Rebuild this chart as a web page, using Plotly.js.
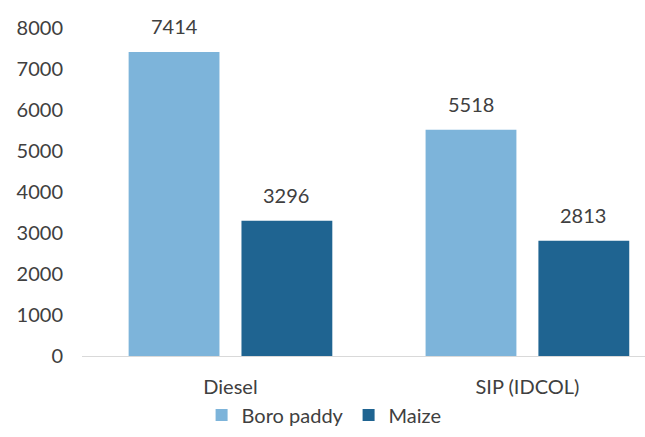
<!DOCTYPE html>
<html><head><meta charset="utf-8">
<script src="https://cdn.plot.ly/plotly-3.0.1.min.js"></script>
<style>html,body{margin:0;padding:0;background:#fff}#c{width:645px;height:437px}</style>
</head><body><div id="c"></div>
<script>
const categories = ["Diesel", "SIP (IDCOL)"];
const boroPaddy = [7414, 5518];
const maize = [3296, 2813];
const seriesNames = ["Boro paddy", "Maize"];
const yTicks = [0, 1000, 2000, 3000, 4000, 5000, 6000, 7000, 8000];

const colors = ["#7db4da", "#1f6491"];
const font = "Lato, 'Open Sans', sans-serif";
const txtColor = "#404040";
const series = [boroPaddy, maize];

const traces = series.map((vals, i) => ({
  type: "bar", x: categories, y: vals, name: seriesNames[i],
  marker: {color: colors[i]}, hoverinfo: "skip"
}));

const annotations = [];
series.forEach((vals, i) => {
  vals.forEach((v, j) => {
    annotations.push({
      x: categories[j], y: v, xref: "x", yref: "y",
      text: String(v), showarrow: false,
      xshift: (i === 0 ? -1 : 1) * 56, yshift: 26, yanchor: "middle",
      font: {family: font, size: 20, color: txtColor}
    });
  });
});

Plotly.newPlot("c", traces, {
  width: 645, height: 437,
  margin: {l: 82, r: 0, t: 28, b: 81},
  paper_bgcolor: "#fff", plot_bgcolor: "#fff",
  barmode: "group", bargap: 0.24, bargroupgap: 0.195,
  showlegend: true,
  legend: {orientation: "h", x: 0.43, xanchor: "center", y: -0.18, yanchor: "middle",
    itemwidth: 30, font: {family: font, size: 20, color: txtColor}, traceorder: "normal"},
  xaxis: {range: [-0.5, 1.396], showline: true, linecolor: "#d9d9d9", linewidth: 1,
    ticks: "", ticklabelstandoff: 13,
    tickfont: {family: font, size: 20, color: txtColor}, fixedrange: true},
  yaxis: {range: [0, 8000], tickvals: yTicks, showgrid: false, zeroline: false,
    showline: false, ticks: "", ticklen: 0, ticklabelstandoff: 18,
    tickfont: {family: font, size: 20, color: txtColor}, fixedrange: true},
  annotations: annotations
}, {staticPlot: true});
</script></body></html>
